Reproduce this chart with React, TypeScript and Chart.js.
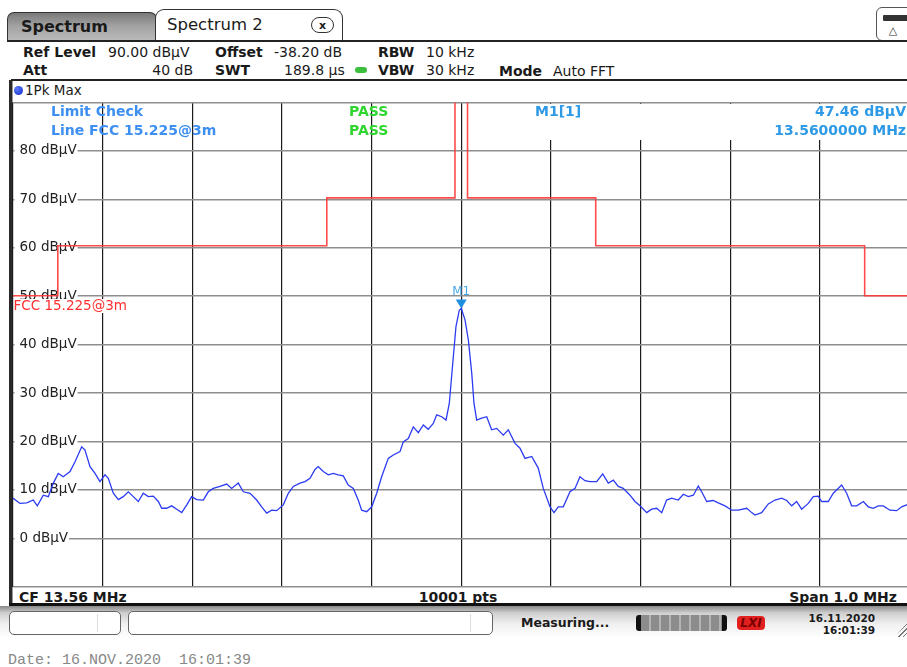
import React, { useEffect, useRef } from "react";
import { Chart, registerables } from "chart.js";

Chart.register(...registerables);

// ---- data ----
const freqMHz = [
  13.06, 13.0678, 13.0753, 13.0826, 13.0871, 13.0938, 13.0994, 13.105, 13.1105, 13.1161,
  13.1236, 13.1292, 13.1366, 13.1403, 13.1459, 13.1515, 13.157, 13.1626, 13.1663, 13.1719,
  13.1775, 13.183, 13.1886, 13.1942, 13.1998, 13.2053, 13.2109, 13.2165, 13.2221, 13.2259,
  13.2314, 13.237, 13.2426, 13.2482, 13.2538, 13.2593, 13.2649, 13.2723, 13.2778, 13.2834,
  13.2909, 13.2984, 13.3039, 13.3113, 13.3169, 13.3244, 13.3318, 13.3374, 13.343, 13.3486,
  13.3541, 13.3615, 13.3671, 13.3727, 13.3801, 13.3857, 13.3913, 13.3969, 13.4005, 13.4061,
  13.4117, 13.4173, 13.4228, 13.4284, 13.434, 13.4396, 13.4451, 13.4489, 13.4545, 13.4601,
  13.4657, 13.4712, 13.4786, 13.4842, 13.4917, 13.4953, 13.5009, 13.5065, 13.5121, 13.5177,
  13.5232, 13.5288, 13.5326, 13.5382, 13.543, 13.5467, 13.5505, 13.5541, 13.5578, 13.56,
  13.5642, 13.5679, 13.5717, 13.5742, 13.5772, 13.5828, 13.5884, 13.5939, 13.5995, 13.6069,
  13.6125, 13.62, 13.6255, 13.6311, 13.6386, 13.6459, 13.6515, 13.659, 13.6634, 13.6682,
  13.6738, 13.6813, 13.6869, 13.6924, 13.698, 13.7036, 13.7111, 13.7178, 13.724, 13.7296,
  13.7352, 13.7407, 13.7482, 13.7538, 13.7594, 13.7669, 13.7724, 13.778, 13.7836, 13.7891,
  13.7947, 13.8021, 13.8077, 13.8133, 13.8189, 13.8244, 13.8282, 13.8338, 13.8411, 13.8467,
  13.8542, 13.8617, 13.869, 13.8784, 13.884, 13.8876, 13.8951, 13.9025, 13.91, 13.9174,
  13.923, 13.9286, 13.9341, 13.9397, 13.9471, 13.9527, 13.9582, 13.962, 13.9694, 13.975,
  13.9843, 13.9899, 13.9955, 14.0011, 14.0085, 14.014, 14.0196, 14.0252, 14.0307, 14.0382,
  14.0457, 14.0513, 14.0568, 14.06,
];
const levelDbuV = [
  8.3, 7.2, 7.3, 7.9, 6.7, 8.9, 8.6, 11.4, 13.4, 12.7,
  13.8, 15.8, 18.9, 18.2, 14.8, 13.4, 11.7, 13.1, 12.4, 9.3,
  8.0, 8.6, 9.6, 8.6, 7.6, 9.3, 8.6, 8.7, 7.6, 6.2,
  6.2, 6.7, 6.0, 5.3, 6.9, 8.6, 8.0, 7.9, 9.6, 10.3,
  10.7, 11.2, 10.3, 11.4, 9.6, 9.3, 7.9, 6.5, 5.2, 5.8,
  5.7, 6.9, 9.3, 10.7, 11.4, 11.7, 12.4, 14.2, 14.8, 13.8,
  13.1, 13.4, 13.1, 12.9, 11.0, 10.3, 7.9, 5.8, 5.5, 6.5,
  9.3, 12.7, 16.5, 17.2, 17.9, 19.9, 20.6, 23.0, 21.8, 23.4,
  22.5, 23.7, 25.5, 25.1, 24.4, 27.9, 36.1, 43.7, 47.1, 47.46,
  45.1, 41.0, 34.1, 27.9, 24.4, 24.8, 25.1, 22.4, 22.7, 21.3,
  22.4, 19.6, 18.6, 16.5, 16.9, 14.5, 10.3, 6.5, 5.3, 6.5,
  6.5, 9.6, 10.3, 12.7, 11.9, 11.7, 11.7, 13.3, 11.4, 12.0,
  10.7, 10.3, 8.9, 7.6, 6.7, 5.3, 6.0, 6.2, 5.3, 7.9,
  8.3, 7.9, 9.1, 8.6, 8.9, 10.8, 9.6, 7.6, 7.8, 7.3,
  6.7, 5.8, 5.8, 6.2, 5.3, 4.8, 5.3, 7.1, 7.9, 8.3,
  7.8, 6.7, 7.6, 6.0, 7.2, 8.6, 8.7, 7.6, 7.6, 9.3,
  11.0, 9.3, 6.7, 6.7, 7.6, 6.5, 6.2, 6.7, 6.7, 5.8,
  5.7, 6.5, 6.9, 7.2,
];
const limitFreqMHz = [13.06, 13.11, 13.41, 13.553, 13.567, 13.71, 14.01, 14.06];
const limitDbuV = [50.1, 60.4, 70.3, 130, 70.3, 60.4, 50.1, 50.1];
const xTicks = [13.06, 13.16, 13.26, 13.36, 13.46, 13.56, 13.66, 13.76, 13.86, 13.96, 14.06];
const yTicks = [-10, 0, 10, 20, 30, 40, 50, 60, 70, 80, 90];
const yLabelValues = [0, 10, 20, 30, 40, 50, 60, 70, 80];
const markerFreq = 13.56;
const markerLevel = 47.46;

const FONT = "'DejaVu Sans', Verdana, sans-serif";

const overlayPlugin = {
  id: "overlay",
  beforeDatasetsDraw(chart: any) {
    const { ctx, chartArea: a, scales } = chart;
    const y = scales.y;
    ctx.save();
    // marker info box covers vertical grid
    ctx.fillStyle = "#ffffff";
    ctx.fillRect(478, a.top + 1.5, a.right - 478, 36);
    // y tick labels
    ctx.font = `13.5px ${FONT}`;
    ctx.textBaseline = "middle";
    yLabelValues.forEach((v) => {
      const py = y.getPixelForValue(v);
      const t = `${v} dBµV`;
      const w = ctx.measureText(t).width;
      ctx.fillStyle = "#ffffff";
      ctx.fillRect(a.left + 1.5, py - 2, 19 - a.left + w, 4);
      ctx.fillStyle = "#222222";
      ctx.fillText(t, 19.5, py);
    });
    // texts
    ctx.font = `bold 14px ${FONT}`;
    ctx.fillStyle = "#3d8ff2";
    ctx.fillText("Limit Check", 51, 112.7);
    ctx.fillText("Line FCC 15.225@3m", 51, 131);
    ctx.fillStyle = "#2fd62f";
    ctx.fillText("PASS", 349, 112.7);
    ctx.fillText("PASS", 349, 131);
    ctx.fillStyle = "#2e9ae6";
    ctx.fillText("M1[1]", 535, 112.7);
    ctx.textAlign = "right";
    ctx.fillText("47.46 dBµV", 906, 112.7);
    ctx.fillText("13.5600000 MHz", 906, 131);
    ctx.restore();
  },
  afterDatasetsDraw(chart: any) {
    const { ctx, chartArea: a, scales } = chart;
    const x = scales.x;
    const y = scales.y;
    ctx.save();
    ctx.font = `13.5px ${FONT}`;
    ctx.textBaseline = "middle";
    const lab = "FCC 15.225@3m";
    const w = ctx.measureText(lab).width;
    ctx.fillStyle = "#ffffff";
    ctx.fillRect(a.left + 1, 299, w + 2, 14);
    ctx.fillStyle = "#ff3030";
    ctx.fillText(lab, a.left + 0.5, 306.5);
    // marker
    const px = x.getPixelForValue(markerFreq);
    const py = y.getPixelForValue(markerLevel);
    ctx.fillStyle = "#1f8fe0";
    ctx.beginPath();
    ctx.moveTo(px - 5.5, py - 9);
    ctx.lineTo(px + 5.5, py - 9);
    ctx.lineTo(px, py);
    ctx.closePath();
    ctx.fill();
    ctx.font = `12px ${FONT}`;
    ctx.textAlign = "center";
    ctx.fillStyle = "#4aa8e8";
    ctx.fillText("M1", px, py - 17);
    ctx.restore();
  },
};

function T(props: {
  x: number;
  y: number;
  children: React.ReactNode;
  bold?: boolean;
  size?: number;
  align?: "left" | "right" | "center";
  color?: string;
  family?: string;
}) {
  const { x, y, children, bold, size = 14, align = "left", color = "#1a1a1a", family } = props;
  const tx = align === "right" ? "-100%" : align === "center" ? "-50%" : "0";
  return (
    <div
      style={{
        position: "absolute",
        left: x,
        top: y,
        transform: `translate(${tx}, -50%)`,
        fontSize: size,
        fontWeight: bold ? 700 : 400,
        lineHeight: 1,
        whiteSpace: "nowrap",
        color,
        fontFamily: family || FONT,
      }}
    >
      {children}
    </div>
  );
}

function Box(props: { style: React.CSSProperties; children?: React.ReactNode }) {
  return <div style={{ position: "absolute", boxSizing: "border-box", ...props.style }}>{props.children}</div>;
}

export default function App() {
  const ref = useRef<HTMLCanvasElement | null>(null);
  useEffect(() => {
    if (!ref.current) return;
    const chart = new Chart(ref.current, {
      type: "line",
      data: {
        datasets: [
          {
            label: "1Pk Max",
            data: freqMHz.map((f, i) => ({ x: f, y: levelDbuV[i] })),
            borderColor: "#2b3bf2",
            borderWidth: 1.3,
            pointRadius: 0,
            tension: 0,
            fill: false,
          },
          {
            label: "FCC 15.225@3m",
            data: limitFreqMHz.map((f, i) => ({ x: f, y: limitDbuV[i] })),
            borderColor: "rgba(255,55,55,0.9)",
            borderWidth: 1.6,
            pointRadius: 0,
            stepped: "before",
            fill: false,
          },
        ],
      },
      options: {
        animation: false,
        responsive: false,
        devicePixelRatio: 1,
        layout: { padding: { left: 13, top: 102.5, right: 2.5, bottom: 80.3 } },
        plugins: { legend: { display: false }, tooltip: { enabled: false } },
        scales: {
          x: {
            type: "linear",
            min: 13.06,
            max: 14.06,
            afterBuildTicks: (ax: any) => {
              ax.ticks = xTicks.map((v) => ({ value: v }));
            },
            ticks: { display: false },
            grid: { color: "#1c1c1c", lineWidth: 1.2, drawTicks: false },
            border: { display: false },
          },
          y: {
            type: "linear",
            min: -10,
            max: 90,
            afterBuildTicks: (ax: any) => {
              ax.ticks = yTicks.map((v) => ({ value: v }));
            },
            ticks: { display: false },
            grid: { color: "#8e8e8e", lineWidth: 1.5, drawTicks: false },
            border: { display: false },
          },
        },
      } as any,
      plugins: [overlayPlugin],
    });
    return () => chart.destroy();
  }, []);

  return (
    <div
      style={{
        position: "fixed",
        left: 0,
        top: 0,
        width: 907,
        height: 667,
        overflow: "hidden",
        background: "#ffffff",
        fontFamily: FONT,
      }}
    >
      {/* tabs */}
      <Box
        style={{
          left: 7, top: 12, width: 150, height: 30,
          border: "1.5px solid #333", borderBottom: "none", borderRadius: "7px 7px 0 0",
          background: "linear-gradient(to bottom, #7a7a7a, #a2a2a2 45%, #bdbdbd)",
        }}
      />
      <T x={21} y={27} bold size={16}>Spectrum</T>
      <Box
        style={{
          left: 155, top: 9, width: 188, height: 33,
          border: "1.5px solid #333", borderBottom: "none", borderRadius: "9px 9px 0 0",
          background: "#ffffff",
        }}
      />
      <T x={167} y={25} size={16.5}>Spectrum 2</T>
      <Box
        style={{
          left: 311, top: 17, width: 23, height: 16,
          border: "1.5px solid #333", borderRadius: 8, background: "#fff",
        }}
      />
      <T x={322.5} y={24.5} bold size={11} align="center">x</T>
      {/* top right icon */}
      <Box
        style={{
          left: 876, top: 7, width: 44, height: 34,
          border: "1.5px solid #555", borderRadius: 6, background: "#fff",
        }}
      />
      <Box style={{ left: 883, top: 15, width: 26, height: 6, background: "#333", borderRadius: 1 }} />
      <T x={893} y={30} size={11} align="center" color="#333">△</T>
      {/* header lines */}
      <Box style={{ left: 7, top: 40, width: 900, height: 2, background: "#222" }} />
      {/* info rows */}
      <T x={23} y={51.7} bold>Ref Level</T>
      <T x={108} y={51.7}>90.00 dBµV</T>
      <T x={215} y={51.7} bold>Offset</T>
      <T x={274} y={51.7}>-38.20 dB</T>
      <T x={378} y={51.7} bold>RBW</T>
      <T x={426} y={51.7}>10 kHz</T>
      <T x={23} y={70} bold>Att</T>
      <T x={193} y={70} align="right">40 dB</T>
      <T x={215} y={70} bold>SWT</T>
      <T x={284} y={70}>189.8 µs</T>
      <Box style={{ left: 355, top: 67, width: 12, height: 6, background: "#3cbf3c", borderRadius: 3 }} />
      <T x={378} y={70} bold>VBW</T>
      <T x={426} y={70}>30 kHz</T>
      <T x={499} y={71} bold>Mode</T>
      <T x={553} y={71}>Auto FFT</T>
      <Box style={{ left: 11, top: 79, width: 896, height: 2, background: "#222" }} />
      {/* plot frame */}
      <Box style={{ left: 9, top: 80, width: 3, height: 526, background: "#2a2a2a" }} />
      <Box style={{ left: 12, top: 81, width: 1, height: 524, background: "#9a9a9a" }} />
      <Box
        style={{
          left: 14, top: 86, width: 9, height: 9, borderRadius: "50%",
          background: "radial-gradient(circle at 35% 35%, #5a7cff, #1024c8)",
        }}
      />
      <T x={25} y={91} size={13.5}>1Pk Max</T>
      {/* bottom bar */}
      <T x={19} y={596.7} bold>CF 13.56 MHz</T>
      <T x={458} y={596.7} bold align="center">10001 pts</T>
      <T x={897} y={596.7} bold align="right">Span 1.0 MHz</T>
      <Box style={{ left: 9, top: 603, width: 898, height: 3, background: "#111" }} />
      {/* status bar */}
      <Box
        style={{
          left: 0, top: 606, width: 907, height: 34,
          background: "linear-gradient(to bottom, #8a8a8a 0px, #cfcfcf 7px, #f0f0f0 18px, #ffffff 32px)",
        }}
      />
      <Box style={{ left: 9, top: 611, width: 112, height: 24, border: "1.2px solid #666", borderRadius: 5, background: "#fff" }} />
      <Box style={{ left: 97, top: 614, width: 1, height: 18, background: "#ddd" }} />
      <Box style={{ left: 128, top: 611, width: 365, height: 24, border: "1.2px solid #666", borderRadius: 5, background: "#fff" }} />
      <Box style={{ left: 470, top: 614, width: 1, height: 18, background: "#ddd" }} />
      <T x={521} y={622.5} bold size={12.5}>Measuring...</T>
      <Box
        style={{
          left: 636, top: 615, width: 91, height: 16, borderRadius: 3,
          borderLeft: "5px solid #111", borderRight: "5px solid #111",
          background: "repeating-linear-gradient(to right, #8c8c8c 0px, #8c8c8c 8px, #b4b4b4 8px, #b4b4b4 10px)",
        }}
      />
      <Box
        style={{
          left: 737, top: 616, width: 28, height: 14, borderRadius: 4,
          background: "#e32020", color: "#7a0000", fontStyle: "italic", fontWeight: 700,
          fontSize: 12, lineHeight: "14px", textAlign: "center",
        }}
      >
        LXI
      </Box>
      <T x={875} y={617.5} bold size={10.5} align="right">16.11.2020</T>
      <T x={875} y={629.5} bold size={10.5} align="right">16:01:39</T>
      <Box
        style={{
          left: 895, top: 620, width: 14, height: 17,
          background: "repeating-linear-gradient(135deg, transparent 0px, transparent 2px, #777 2px, #777 3px)",
          clipPath: "polygon(100% 0, 100% 100%, 0 100%)",
        }}
      />
      {/* date line */}
      <T x={8} y={660} size={15} color="#888" family="'Liberation Mono', 'DejaVu Sans Mono', monospace">
        Date: 16.NOV.2020&nbsp;&nbsp;16:01:39
      </T>
      <canvas
        ref={ref}
        width={912}
        height={667}
        style={{ position: "absolute", left: 0, top: 0, width: 912, height: 667, pointerEvents: "none" }}
      />
    </div>
  );
}
